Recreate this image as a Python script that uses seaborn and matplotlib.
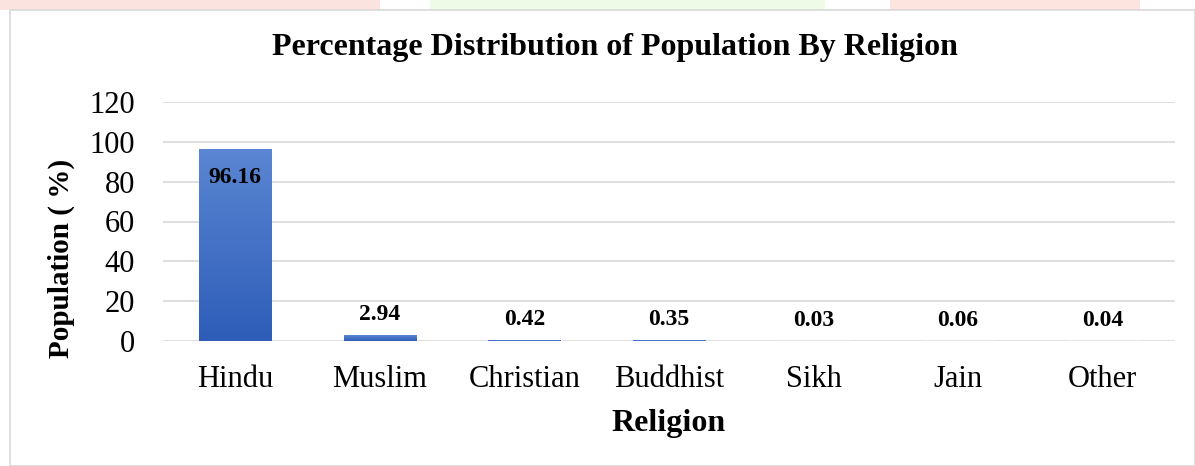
import numpy as np
import pandas as pd
import matplotlib
matplotlib.use("Agg")
import matplotlib.pyplot as plt
from matplotlib.patches import Rectangle
import seaborn as sns

religions = ["Hindu", "Muslim", "Christian", "Buddhist", "Sikh", "Jain", "Other"]
population_pct = [96.16, 2.94, 0.42, 0.35, 0.03, 0.06, 0.04]
y_ticks = [0, 20, 40, 60, 80, 100, 120]

df = pd.DataFrame({"Religion": religions, "Population": population_pct})

sns.set_theme(style="white")
plt.rcParams["font.family"] = ["Liberation Serif", "DejaVu Serif"]
plt.rcParams["text.color"] = "black"
plt.rcParams["axes.labelcolor"] = "black"

W, H = 1195, 466
fig = plt.figure(figsize=(W / 100, H / 100), dpi=100)
fig.patch.set_facecolor("white")

# faint background watermark pieces at the very top
fig.add_artist(Rectangle((0, 1 - 10 / H), 380 / W, 10 / H, transform=fig.transFigure,
                         facecolor="#fbe3e0", edgecolor="none", zorder=-2))
fig.add_artist(Rectangle((430 / W, 1 - 10 / H), 395 / W, 10 / H, transform=fig.transFigure,
                         facecolor="#eefbe6", edgecolor="none", zorder=-2))
fig.add_artist(Rectangle((890 / W, 1 - 10 / H), 250 / W, 10 / H, transform=fig.transFigure,
                         facecolor="#fde4de", edgecolor="none", zorder=-2))
# chart frame
fig.add_artist(Rectangle((10 / W, 0), 1 - 10 / W, 1 - 10 / H, transform=fig.transFigure,
                         facecolor="none", edgecolor="#d9d9d9", linewidth=1.2, zorder=-1))

left, right, top, bottom = 163, 1175, 102, 341
ax = fig.add_axes([left / W, 1 - bottom / H, (right - left) / W, (bottom - top) / H])
ax.set_facecolor("none")

sns.barplot(data=df, x="Religion", y="Population", ax=ax, color="#4472c4",
            width=0.5, saturation=1, zorder=3)

# vertical gradient on bars
grad = np.linspace(0, 1, 256).reshape(-1, 1)
cmap = matplotlib.colors.LinearSegmentedColormap.from_list("g", ["#2e5db8", "#5b86d3"])
for p in list(ax.patches):
    x0, y0 = p.get_x(), p.get_y()
    w, h = p.get_width(), p.get_height()
    if h <= 0:
        continue
    im = ax.imshow(grad, cmap=cmap, aspect="auto", origin="lower",
                   extent=[x0, x0 + w, y0, y0 + h], zorder=3.5)
    im.set_clip_path(p)

ax.set_xlim(-0.5, len(religions) - 0.5)
ax.set_ylim(0, 120)
ax.set_yticks(y_ticks)
ax.yaxis.grid(True, color="#d9d9d9", linewidth=1.2, zorder=0)
ax.set_axisbelow(True)
for s in ax.spines.values():
    s.set_visible(False)
ax.tick_params(axis="both", length=0, labelsize=22, colors="black")
ax.tick_params(axis="x", pad=17)
ax.tick_params(axis="y", pad=20)

for i, v in enumerate(population_pct):
    if v > 50:
        ax.annotate(f"{v:.2f}", (i, v), xytext=(0, -20), textcoords="offset points",
                    ha="center", va="center", fontsize=17, fontweight="bold", zorder=5)
    else:
        ax.annotate(f"{v:.2f}", (i, v), xytext=(0, 15), textcoords="offset points",
                    ha="center", va="center", fontsize=17, fontweight="bold", zorder=5)

ax.set_xlabel("Religion", fontsize=23, fontweight="bold", labelpad=11)
ax.set_ylabel("Population ( %)", fontsize=21, fontweight="bold")
ax.yaxis.set_label_coords((75 - left) / (right - left), (bottom - 258) / (bottom - top))
fig.text(615 / W, 1 - 48 / H, "Percentage Distribution of Population By Religion",
         ha="center", va="center", fontsize=23, fontweight="bold")

fig.savefig("out.png", dpi=100)
